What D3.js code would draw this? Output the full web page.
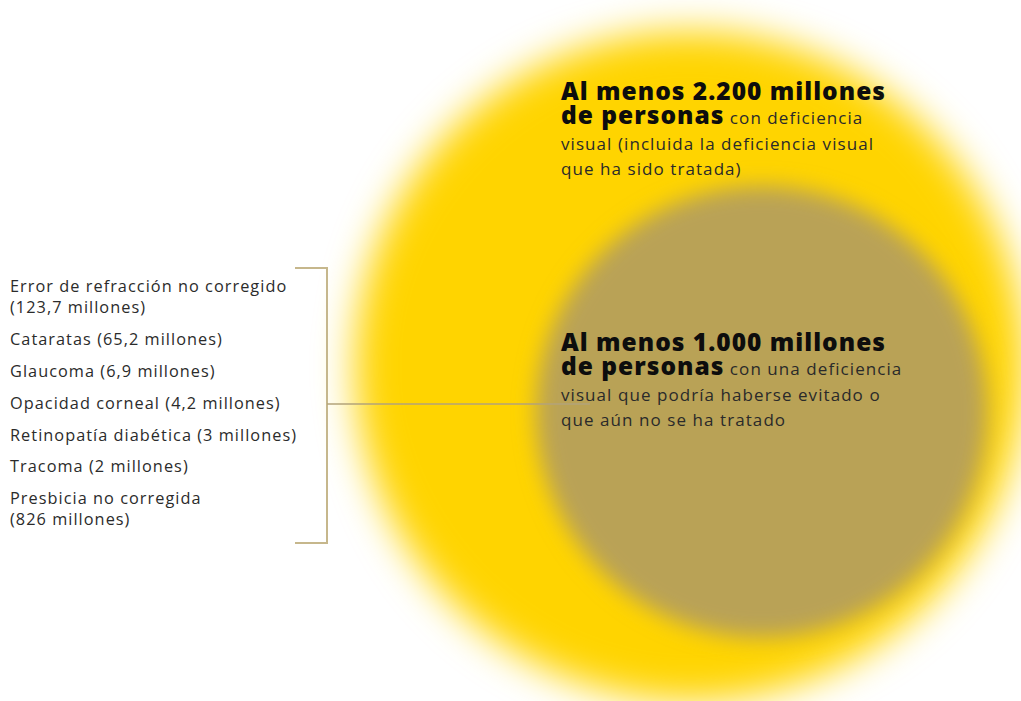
<!DOCTYPE html>
<html lang="es">
<head>
<meta charset="utf-8">
<script src="https://cdn.jsdelivr.net/npm/d3@7"></script>
<style>
  html, body { margin: 0; padding: 0; background: #fff; }
  svg { display: block; }
</style>
</head>
<body>
<svg id="chart" width="1021" height="701"></svg>
<script>
// Totals (millions of people)
const groups = ["total", "evitable"];
const groupValues = [2200, 1000];
const groupHead = ["Al menos 2.200 millones", "Al menos 1.000 millones"];
const groupBody = [
  ["con deficiencia", "visual (incluida la deficiencia visual", "que ha sido tratada)"],
  ["con una deficiencia", "visual que podría haberse evitado o", "que aún no se ha tratado"]
];

// Causes of avoidable / untreated impairment (millions)
const causes = ["Error de refracción no corregido", "Cataratas", "Glaucoma", "Opacidad corneal",
                "Retinopatía diabética", "Tracoma", "Presbicia no corregida"];
const causeValues = [123.7, 65.2, 6.9, 4.2, 3, 2, 826];
const causeWrap = [true, false, false, false, false, false, true];

const fmt = v => String(v).replace(".", ",");

const svg = d3.select("#chart");

// circle layout
const centers = [[690, 366], [762, 412]];
const fills = ["#FFD400", "#B9A256"];
const blurs = [19, 11];
const r = d3.scaleSqrt().domain([0, d3.max(groupValues)]).range([0, 335]);

const defs = svg.append("defs");
blurs.forEach((s, i) => {
  defs.append("filter").attr("id", "soft" + i)
    .attr("x", "-30%").attr("y", "-30%").attr("width", "160%").attr("height", "160%")
    .append("feGaussianBlur").attr("stdDeviation", s);
});

svg.append("g").selectAll("circle")
  .data(groupValues)
  .join("circle")
  .attr("cx", (d, i) => centers[i][0])
  .attr("cy", (d, i) => centers[i][1])
  .attr("r", d => r(d))
  .attr("fill", (d, i) => fills[i])
  .attr("filter", (d, i) => `url(#soft${i})`);

// bracket joining the list of causes to the inner circle
const bracket = svg.append("g").attr("fill", "none").attr("stroke", "#C6B78C").attr("stroke-width", 2);
const bx = 327, byTop = 268, byBot = 543, byMid = 404;
bracket.append("path").attr("d", `M${bx - 32},${byTop}H${bx}V${byBot}H${bx - 32}`);
bracket.append("line").attr("x1", bx).attr("x2", 590).attr("y1", byMid).attr("y2", byMid)
  .attr("stroke", "#B3A37A").attr("stroke-width", 1.6);

// letter spacing that makes a sample string span a given width
const FAM = "'Open Sans', Lato, sans-serif";
function fitSpacing(text, weight, size, target) {
  const t = svg.append("text").attr("font-family", FAM).attr("font-weight", weight)
    .attr("font-size", size).text(text);
  const w = t.node().getComputedTextLength();
  t.remove();
  return (target - w) / (text.length - 1);
}

const headSize = 24.5, bodySize = 17, listSize = 16.3;
const headLS = fitSpacing(groupHead[0], 800, headSize, 324);
const bodyLS = fitSpacing(groupBody[0][1], 400, bodySize, 312);
const listLS = fitSpacing("Retinopatía diabética (3 millones)", 400, listSize, 286);

// headline blocks
const blockX = 561;
const blockY = [100, 351];
groupHead.forEach((h, i) => {
  const g = svg.append("g").attr("font-family", FAM);
  const y0 = blockY[i];
  g.append("text").attr("x", blockX).attr("y", y0)
    .attr("font-weight", 800).attr("font-size", headSize).attr("letter-spacing", headLS)
    .attr("fill", "#0d0d0d").text(h);
  const t2 = g.append("text").attr("x", blockX).attr("y", y0 + 24);
  t2.append("tspan").attr("font-weight", 800).attr("font-size", headSize).attr("letter-spacing", headLS)
    .attr("fill", "#0d0d0d").text("de personas");
  t2.append("tspan").attr("font-weight", 400).attr("font-size", bodySize).attr("letter-spacing", bodyLS)
    .attr("fill", "#2a2a2a").text(" " + groupBody[i][0]);
  g.append("text").attr("x", blockX).attr("y", y0 + 50)
    .attr("font-size", bodySize).attr("letter-spacing", bodyLS).attr("fill", "#2a2a2a").text(groupBody[i][1]);
  g.append("text").attr("x", blockX).attr("y", y0 + 75)
    .attr("font-size", bodySize).attr("letter-spacing", bodyLS).attr("fill", "#2a2a2a").text(groupBody[i][2]);
});

// list of causes
const list = svg.append("g").attr("font-family", FAM).attr("font-size", listSize)
  .attr("letter-spacing", listLS).attr("fill", "#2b2b2b");
let y = 292;
causes.forEach((c, i) => {
  const val = `(${fmt(causeValues[i])} millones)`;
  if (causeWrap[i]) {
    list.append("text").attr("x", 10).attr("y", y).text(c);
    list.append("text").attr("x", 10).attr("y", y + 21).text(val);
    y += 21 + 32;
  } else {
    list.append("text").attr("x", 10).attr("y", y).text(`${c} ${val}`);
    y += i === 4 ? 31 : 32;
  }
});
</script>
</body>
</html>
